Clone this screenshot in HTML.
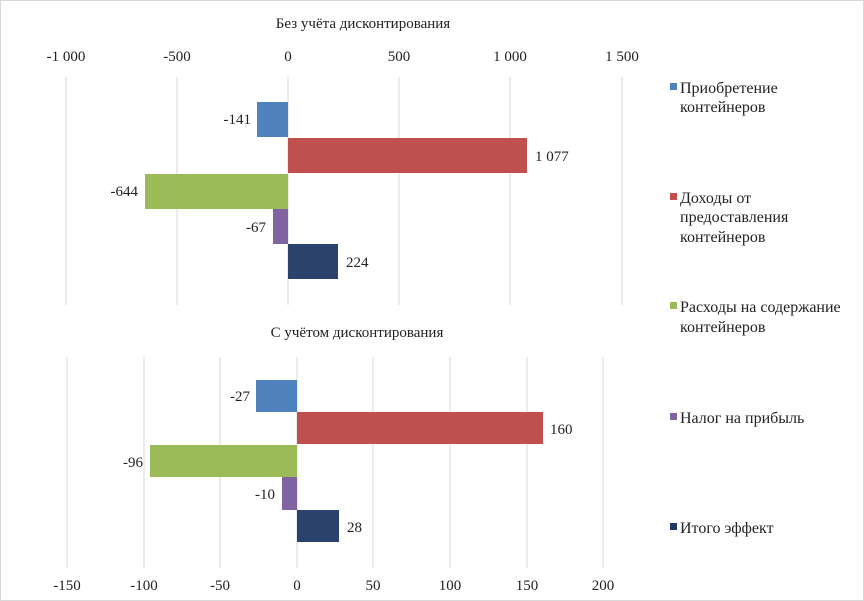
<!DOCTYPE html>
<html><head><meta charset="utf-8"><style>
body{margin:0;background:#fff}
svg{display:block;font-family:"Liberation Serif",serif}
</style></head><body>
<svg width="864" height="601" xmlns="http://www.w3.org/2000/svg">
<rect x="0.5" y="0.5" width="863" height="600" fill="#fff" stroke="#d9d9d9"/>
<g stroke="#d9d9d9" stroke-width="1">
<line x1="66" y1="77" x2="66" y2="305"/><line x1="177" y1="77" x2="177" y2="305"/><line x1="288" y1="77" x2="288" y2="305"/><line x1="399" y1="77" x2="399" y2="305"/><line x1="510" y1="77" x2="510" y2="305"/><line x1="622" y1="77" x2="622" y2="305"/>
<line x1="67" y1="357" x2="67" y2="568"/><line x1="144" y1="357" x2="144" y2="568"/><line x1="220" y1="357" x2="220" y2="568"/><line x1="297" y1="357" x2="297" y2="568"/><line x1="373" y1="357" x2="373" y2="568"/><line x1="450" y1="357" x2="450" y2="568"/><line x1="527" y1="357" x2="527" y2="568"/><line x1="603" y1="357" x2="603" y2="568"/>
</g>
<g font-size="15" fill="#222" text-anchor="middle">
<text x="363" y="28">Без учёта дисконтирования</text>
<text x="357" y="337">С учётом дисконтирования</text>
<text x="66" y="61">-1 000</text><text x="177" y="61">-500</text><text x="288" y="61">0</text><text x="399" y="61">500</text><text x="510" y="61">1 000</text><text x="622" y="61">1 500</text>
<text x="67" y="590">-150</text><text x="144" y="590">-100</text><text x="220" y="590">-50</text><text x="297" y="590">0</text><text x="373" y="590">50</text><text x="450" y="590">100</text><text x="527" y="590">150</text><text x="603" y="590">200</text>
</g>
<rect x="257" y="102" width="31" height="35" fill="#4f81bd"/>
<rect x="288" y="138" width="239" height="35" fill="#c0504d"/>
<rect x="145" y="174" width="143" height="35" fill="#9bbb59"/>
<rect x="273" y="209" width="15" height="35" fill="#8064a2"/>
<rect x="288" y="244" width="50" height="35" fill="#1f3864" opacity="0.95"/>
<rect x="256" y="380" width="41" height="32" fill="#4f81bd"/>
<rect x="297" y="412" width="246" height="32" fill="#c0504d"/>
<rect x="150" y="445" width="147" height="32" fill="#9bbb59"/>
<rect x="282" y="477" width="15" height="33" fill="#8064a2"/>
<rect x="297" y="510" width="42" height="32" fill="#1f3864" opacity="0.95"/>
<g font-size="15" fill="#222">
<text x="251" y="124" text-anchor="end">-141</text>
<text x="535" y="161">1 077</text>
<text x="138" y="196" text-anchor="end">-644</text>
<text x="266" y="232" text-anchor="end">-67</text>
<text x="346" y="267">224</text>
<text x="250" y="401" text-anchor="end">-27</text>
<text x="550" y="434">160</text>
<text x="143" y="467" text-anchor="end">-96</text>
<text x="275" y="499" text-anchor="end">-10</text>
<text x="347" y="532">28</text>
</g>
<g font-size="16" fill="#222">
<rect x="670" y="83" width="7" height="7" fill="#4f81bd"/>
<text x="680" y="93">Приобретение</text><text x="680" y="112">контейнеров</text>
<rect x="670" y="193" width="7" height="7" fill="#c0504d"/>
<text x="680" y="203">Доходы от</text><text x="680" y="222">предоставления</text><text x="680" y="242">контейнеров</text>
<rect x="670" y="302" width="7" height="7" fill="#9bbb59"/>
<text x="680" y="312">Расходы на содержание</text><text x="680" y="332">контейнеров</text>
<rect x="670" y="413" width="7" height="7" fill="#8064a2"/>
<text x="680" y="423">Налог на прибыль</text>
<rect x="670" y="523" width="7" height="7" fill="#1f3864"/>
<text x="680" y="533">Итого эффект</text>
</g>
</svg>
</body></html>
